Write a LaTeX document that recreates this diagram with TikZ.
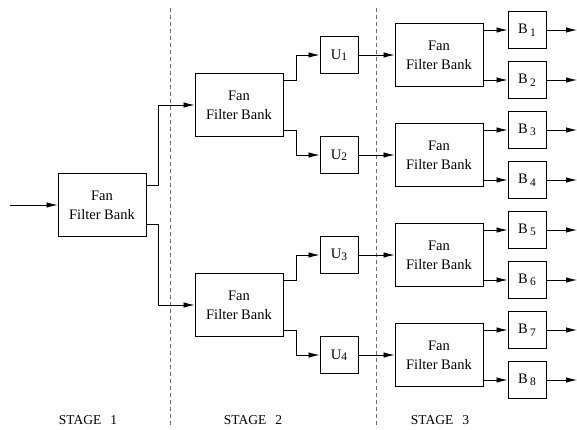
\documentclass[tikz,border=0pt]{standalone}
\usepackage{fontspec}
\setmainfont{Liberation Serif}
\usetikzlibrary{arrows.meta,calc}
\newcommand\mysubs[2]{\raisebox{-#2}{\fontsize{11.5}{12}\selectfont #1}}
\begin{document}
\begin{tikzpicture}[x=1pt,y=-1pt,
 fanbox/.style={draw, line width=0.9pt, minimum width=88pt, minimum height=63pt, align=center, font=\fontsize{14.5}{19}\selectfont, inner sep=0pt},
 smallbox/.style={draw, line width=0.9pt, minimum width=38pt, minimum height=37pt, inner sep=0pt, font=\fontsize{14.5}{17}\selectfont},
 conn/.style={line width=0.8pt},
 arr/.style={conn, -{Latex[length=11pt,width=5.5pt]}},
 stagesep/.style={gray!85!black, line width=1pt, dash pattern=on 4pt off 3pt},
 stagelabel/.style={font=\fontsize{13.5}{16}\selectfont, inner sep=0pt}]
\useasboundingbox (0,0) rectangle (577,429);

% stage separators
\coordinate (d1t) at (170,8);  \coordinate (d1b) at (170,428);
\coordinate (d2t) at (376,8);  \coordinate (d2b) at (376,428);
\draw[stagesep] (d1t) -- (d1b);
\draw[stagesep] (d2t) -- (d2b);

% stage 1
\node[fanbox] (s1) at (102,205) {Fan\\Filter Bank};
\coordinate (in) at (10,205);
\draw[arr] (in) -- (s1.west);

% stage 2
\node[fanbox] (f2a) at (239,105) {Fan\\Filter Bank};
\node[fanbox] (f2b) at (239,305) {Fan\\Filter Bank};
\draw[arr] ($(s1.north east)+(0,12)$) -- ++(12,0) |- (f2a.west);
\draw[arr] ($(s1.south east)+(0,-13)$) -- ++(12,0) |- (f2b.west);

\foreach \i/\y in {1/55,2/155,3/255,4/355}
  \node[smallbox] (u\i) at (339,\y) {U\mysubs{\i}{1.5pt}};

\draw[arr] ($(f2a.north east)+(0,7)$) -- ++(13,0) |- (u1.west);
\draw[arr] ($(f2a.south east)+(0,-7)$) -- ++(13,0) |- (u2.west);
\draw[arr] ($(f2b.north east)+(0,7)$) -- ++(13,0) |- (u3.west);
\draw[arr] ($(f2b.south east)+(0,-7)$) -- ++(13,0) |- (u4.west);

% stage 3
\foreach \n/\y in {a/55,b/155,c/255,d/355}
  \node[fanbox] (f3\n) at (439,\y) {Fan\\Filter Bank};
\draw[arr] (u1.east) -- (f3a.west);
\draw[arr] (u2.east) -- (f3b.west);
\draw[arr] (u3.east) -- (f3c.west);
\draw[arr] (u4.east) -- (f3d.west);

\foreach \i/\y in {1/30,2/80,3/130,4/180,5/230,6/280,7/330,8/380}{
  \node[smallbox] (b\i) at (527,\y) {B\hspace{2.5pt}\mysubs{\i}{2.5pt}};
  \coordinate (o\i) at (577,\y);
  \draw[arr] (b\i.east) -- (o\i);
}
\foreach \n/\p/\q in {a/1/2,b/3/4,c/5/6,d/7/8}{
  \draw[arr] (f3\n.east |- b\p) -- (b\p.west);
  \draw[arr] (f3\n.east |- b\q) -- (b\q.west);
}

% stage labels
\node[stagelabel] (l1) at (88,420) {STAGE\hspace{9pt}1};
\node[stagelabel] (l2) at (253,420) {STAGE\hspace{9pt}2};
\node[stagelabel] (l3) at (440,420) {STAGE\hspace{9pt}3};
\end{tikzpicture}
\end{document}
